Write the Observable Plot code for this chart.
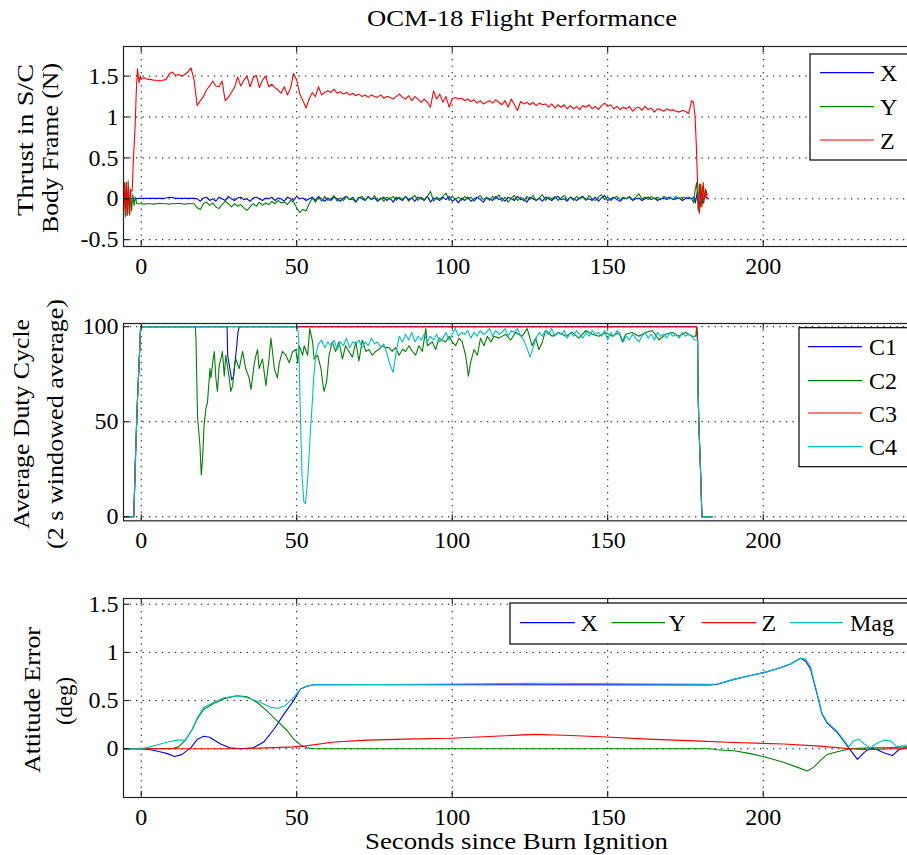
<!DOCTYPE html>
<html><head><meta charset="utf-8">
<script src="https://cdn.jsdelivr.net/npm/d3@7"></script>
<script src="https://cdn.jsdelivr.net/npm/@observablehq/plot@0.6"></script>
<style>
html,body{margin:0;padding:0;background:#fff;overflow:hidden}
#fig{position:relative;width:907px;height:855px;overflow:hidden;background:#fff}
#fig svg{position:absolute;left:0;max-width:none !important;height:auto}
</style></head>
<body><div id="fig"></div>
<script>
// ---------------- DATA ----------------
const xTicks = [0, 50, 100, 150, 200];
const thrustTicks = [-0.5, 0, 0.5, 1, 1.5];
const dutyTicks = [0, 50, 100];
const attTicks = [0, 0.5, 1, 1.5];
const colX = "#0000ff", colY = "#008000", colZ = "#ff0000", colMag = "#00bfbf";

// Panel 1: thrust (N). Startup / shutdown as [t, value]; steady part sampled each second from t = 0
const thrustXStart = [[-5.7,0],[-3,0.003],[-0.5,0.005]];
const thrustX = [
 0.005,0.005,0.005,0.005,0.005,0.005,0.005,0.005,0.01,0.02,
 0.015,0.005,0.005,0.005,0.005,0.005,0.005,0.005,0.0,-0.03,
 0.01,0.02,-0.02,0.0,-0.03,0.02,0.0,-0.02,0.03,0.0,
 -0.02,0.01,0.02,-0.01,0.0,-0.03,0.01,0.02,0.0,-0.02,
 0.01,0.0,0.02,-0.02,0.01,0.0,-0.03,0.02,0.0,-0.02,
 0.03,0.0,0.01,-0.02,0.0,0.02,-0.02,0.03,0.0,-0.03,
 0.01,-0.02,0.02,0.0,-0.03,0.01,0.03,-0.01,0.0,-0.04,
 0.02,0.0,-0.02,0.03,-0.01,0.01,-0.03,0.0,0.02,-0.02,
 0.01,-0.04,0.02,0.0,-0.02,0.03,-0.01,0.01,-0.03,0.02,
 0.0,-0.02,0.03,-0.04,0.01,0.0,-0.02,0.02,-0.01,0.03,
 -0.03,0.0,-0.05,0.01,-0.02,0.02,-0.03,0.0,0.02,-0.01,
 -0.04,0.01,0.0,-0.02,0.03,-0.01,0.01,-0.03,0.02,0.0,
 -0.02,0.03,-0.01,0.0,-0.04,0.02,0.0,-0.02,0.01,-0.03,
 0.02,0.0,-0.02,0.01,0.03,-0.01,0.0,-0.03,0.02,0.0,
 -0.02,0.01,0.03,-0.01,0.0,-0.02,0.02,-0.03,0.01,0.04,
 -0.02,0.0,0.02,-0.01,-0.03,0.01,0.0,0.02,-0.02,0.0,
 0.01,-0.02,0.0,0.02,-0.01,0.01,-0.02,0.0,0.01,-0.01,
 0.02,-0.01,0.0,0.01,-0.02,0.0,0.01,0.0];
const thrustXEnd = [[177.6,0.02],[178.2,-0.05],[178.8,0.08],[179.4,-0.1],[180,0.05],[180.6,-0.06],[181.2,0.04],[182,0.0]];

const thrustYStart = [[-5.7,-0.12],[-5.4,0.12],[-5.1,-0.22],[-4.8,0.2],[-4.5,-0.2],[-4.2,0.22],[-3.9,-0.18],[-3.5,0.12],[-3.1,-0.15],[-2.7,0.05],[-2.3,-0.08],[-1.9,0.02],[-1.4,-0.06]];
const thrustY = [
 -0.06,-0.065,-0.06,-0.06,-0.065,-0.06,-0.055,-0.06,-0.06,-0.065,
 -0.06,-0.06,-0.055,-0.06,-0.065,-0.06,-0.06,-0.06,-0.11,-0.13,
 -0.06,-0.04,-0.08,-0.05,-0.1,-0.12,-0.07,-0.03,-0.06,-0.1,
 -0.06,-0.09,-0.07,-0.11,-0.14,-0.1,-0.06,-0.09,-0.04,-0.08,
 -0.05,-0.07,-0.03,-0.06,-0.02,-0.05,-0.04,-0.07,-0.02,-0.04,
 -0.11,-0.17,-0.13,-0.15,-0.06,0.01,-0.04,0.02,-0.03,0.03,
 -0.02,0.0,0.04,-0.03,0.01,-0.02,0.03,-0.01,0.02,-0.03,
 0.01,0.03,-0.02,0.02,-0.01,0.04,-0.02,0.01,-0.03,0.02,
 0.0,0.03,-0.02,0.02,-0.01,0.03,-0.03,0.01,0.04,-0.02,
 0.02,-0.01,0.03,0.09,-0.03,0.02,0.0,0.03,0.07,-0.02,
 0.03,-0.01,0.02,-0.02,0.03,0.0,0.02,-0.03,0.01,0.04,
 -0.01,0.02,-0.02,0.03,0.0,0.05,-0.03,0.02,-0.04,0.01,
 0.04,-0.02,0.02,-0.03,0.03,-0.01,0.04,-0.02,0.01,0.05,
 -0.02,0.02,0.0,0.03,-0.02,0.01,0.04,-0.01,0.02,-0.02,
 0.03,0.0,0.02,-0.02,0.04,0.0,-0.02,0.02,0.05,-0.01,
 0.02,-0.02,0.01,0.03,-0.01,0.02,0.0,0.03,-0.01,0.02,
 0.06,0.0,0.02,-0.01,0.03,0.0,0.02,-0.01,0.03,0.01,
 0.02,-0.01,0.03,0.0,0.02,0.01,0.02,0.0];
const thrustYEnd = [[177.6,-0.05],[178.1,0.1],[178.6,0.2],[179.1,-0.15],[179.5,0.18],[179.9,-0.1],[180.4,0.15],[180.9,-0.05],[181.4,0.12],[182,0.05]];

const thrustZStart = [[-5.7,0.0],[-5.4,0.2],[-5.1,-0.15],[-4.8,0.2],[-4.5,-0.2],[-4.1,0.15],[-3.7,-0.2],[-3.3,0.1],[-2.9,0.1],[-2.5,0.5],[-2.0,0.85],[-1.6,1.3],[-1.2,1.59],[-0.7,1.42],[-0.3,1.5]];
const thrustZ = [
 1.47,1.48,1.46,1.46,1.45,1.45,1.44,1.45,1.46,1.53,
 1.55,1.51,1.52,1.50,1.52,1.55,1.60,1.45,1.14,1.20,
 1.25,1.33,1.38,1.44,1.38,1.37,1.44,1.20,1.24,1.30,
 1.36,1.49,1.38,1.45,1.50,1.37,1.48,1.51,1.36,1.45,
 1.50,1.37,1.40,1.36,1.33,1.29,1.37,1.27,1.35,1.53,
 1.45,1.28,1.20,1.11,1.22,1.30,1.25,1.37,1.27,1.30,
 1.32,1.30,1.34,1.29,1.31,1.28,1.30,1.27,1.29,1.26,
 1.28,1.25,1.27,1.24,1.27,1.25,1.24,1.27,1.23,1.25,
 1.24,1.22,1.25,1.28,1.24,1.22,1.26,1.20,1.25,1.22,
 1.18,1.22,1.18,1.12,1.32,1.22,1.28,1.18,1.25,1.12,
 1.22,1.24,1.22,1.23,1.20,1.22,1.19,1.21,1.17,1.20,
 1.16,1.18,1.20,1.17,1.21,1.18,1.15,1.20,1.12,1.22,
 1.15,1.08,1.19,1.16,1.18,1.15,1.18,1.14,1.17,1.15,
 1.16,1.12,1.16,1.11,1.15,1.12,1.15,1.10,1.14,1.10,
 1.13,1.09,1.14,1.12,1.15,1.10,1.13,1.09,1.14,1.17,
 1.13,1.15,1.10,1.13,1.09,1.12,1.10,1.13,1.07,1.11,
 1.12,1.08,1.13,1.09,1.11,1.06,1.10,1.09,1.07,1.10,
 1.08,1.09,1.07,1.06,1.08,1.07,1.04,1.20];
const thrustZEnd = [[177.6,1.18],[178.1,1.0],[178.5,0.65],[178.8,0.3],[179.1,0.0],[179.5,-0.18],[179.9,0.18],[180.3,-0.1],[180.7,0.2],[181.1,0.0],[181.6,0.1],[182,0.0]];

// Panel 2: duty cycle (%), [t, value]
const dutyRise = [[-5.7,0],[-2.4,0],[-2.2,11],[-1.8,34],[-1.2,62],[-0.7,80],[-0.2,100]];
const dutyFall = [[178.6,100],[178.9,93],[179.0,72],[179.3,49],[179.8,27],[180.3,0],[183.6,0]];
const dutyC1 = [[27.6,100],[27.8,85],[28.5,78],[29.1,72],[29.7,74],[30.2,82],[30.6,88],[31.1,97],[31.5,100]];
const dutyC2 = [[17.4,100],[17.6,94],[18.1,53],[18.9,37],[19.3,22],[19.7,30],[20.2,48],[20.8,57],[21.3,60],[22.1,78],[22.4,73],[22.9,80],[23.5,87],[24.0,73],[24.5,66],[25.1,80],[25.6,83],[26.1,87],[26.7,74],[27.2,85],[28.3,73],[28.8,66],[29.4,69],[29.9,78],[30.4,83],[31.5,78],[32.6,87],[33.6,78],[34.7,73],[35.3,67],[36.3,80],[36.9,85],[37.4,88],[37.9,78],[39.0,83],[40.1,69],[41.1,83],[41.7,94],[42.2,87],[42.8,78],[43.8,73],[44.4,81],[45.4,87],[46.5,85],[47.6,81],[48.7,87],[49.7,88],[50.3,81],[50.8,90],[51.9,85],[52.4,90],[53.5,85],[54.2,99],[55.1,92],[55.6,83],[56.7,85],[57.8,78],[58.3,71],[58.8,66],[59.6,71],[60.4,85],[61.4,92],[62.5,87],[63.6,92],[64.7,83],[65.7,90],[66.8,87],[67.9,84],[69,92],[70,82],[71.1,93],[72.2,87],[73.2,88],[74.3,85],[75.4,87],[76.4,88],[77.5,90],[78.6,89],[79.7,89],[80.7,87],[81.8,89],[82.9,85],[84,88],[85,87],[86.1,90],[87.2,87],[88.2,85],[89.3,90],[90.4,87],[91.5,99],[92,90],[93.6,92],[94.7,88],[95.7,94],[97.9,92],[99,95],[100,92],[101.1,90],[102.2,94],[103.2,92],[104.3,85],[105.2,74],[105.9,81],[107,88],[108.1,85],[109.1,94],[110.2,90],[111.3,95],[112.4,92],[113.4,95],[115,94],[117.2,96],[118.8,93],[120.4,97],[122.5,95],[124.1,99],[125.7,90],[126.8,94],[127.9,88],[129,92],[130,98],[132.2,95],[134.3,97],[136.5,95],[138.6,97],[140.7,94],[142.9,98],[145,96],[147.2,95],[149.3,97],[151.5,95],[153.6,97],[154.7,92],[155.8,96],[157.9,97],[160,95],[162.2,97],[164.3,98],[166.5,93],[168.6,96],[170.8,97],[172.9,95],[175,97],[177.2,95],[178.3,95]];
const dutyC4 = [[50.2,100],[50.6,95],[51.2,52],[51.7,22],[52.3,8],[52.8,7],[53.3,15],[53.9,30],[54.4,45],[55.0,60],[55.5,74],[56.1,85],
 [57,91],[58,93],[59,89],[60,92],[61,90],[62,93],[63,88],[64,92],[65,90],[66,94],[67,89],[68,92],[69,91],[70,93],[71,89],[72,92],[73,90],[74,94],[75,91],[76,92],[77,89],[78,91],[79,86],[80,80],[81,76],[82,87],[83,95],[84,92],[85,96],[86,93],[87,97],[88,92],[89,95],[90,93],[91,96],[92,92],[93,95],[94,93],[95,96],[96,92],[97,94],[98,97],[99,93],[100,96],[101,99],[102,95],[103,97],[104,96],[105,98],[106,94],[107,97],[108,95],[109,98],[110,96],[111,97],[112,99],[113,95],[114,98],[115,96],[116,97],[117,99],[118,95],[119,98],[120,97],[121,99],[122,95],[123,93],[124,89],[125,84],[126,89],[127,94],[128,97],[129,95],[130,98],[131,96],[132,99],[133,95],[134,97],[135,96],[136,98],[137,94],[138,97],[139,95],[140,98],[141,96],[142,94],[143,97],[144,95],[145,98],[146,96],[147,97],[148,95],[149,98],[150,93],[151,97],[152,95],[153,98],[154,96],[155,92],[156,95],[157,93],[158,96],[159,94],[160,92],[161,95],[162,97],[163,94],[164,96],[165,93],[166,97],[167,95],[168,96],[169,94],[170,97],[171,95],[172,96],[173,94],[174,97],[175,95],[176,96],[177,95],[178,93]];

// Panel 3: attitude error (deg), [t, value]
const attX = [[-5.7,0],[0,0],[3,-0.01],[6,-0.03],[8.4,-0.05],[10.7,-0.08],[13,-0.06],[15.9,0.01],[18.1,0.1],[20.1,0.13],[22,0.12],[25.5,0.05],[28.5,0.01],[32,0.0],[36,0.01],[39.4,0.07],[42.6,0.2],[45.9,0.36],[49,0.5],[51.2,0.62],[53.3,0.65],[55.5,0.665],[60,0.665],[183,0.663],[185.2,0.67],[190.6,0.72],[195.9,0.76],[200.2,0.79],[204.5,0.83],[208.8,0.88],[212,0.94],[213.6,0.91],[215.2,0.83],[217.3,0.57],[218.9,0.36],[220.5,0.27],[223.8,0.17],[225.9,0.08],[227.5,0.01],[230.3,-0.11],[232.4,-0.04],[234.5,0.01],[236.7,-0.01],[238.8,-0.04],[241.5,-0.07],[243.6,-0.01],[245.7,0.01],[248,0.0],[250,-0.02]];
const attY = [[-5.7,0],[9.7,0],[12,0.02],[14.2,0.09],[16.4,0.2],[18,0.31],[20.1,0.41],[23.3,0.47],[26.6,0.52],[30.9,0.55],[34.1,0.54],[37.3,0.48],[40.5,0.39],[43.7,0.29],[46.9,0.19],[49,0.1],[51.2,0.04],[53.3,0.01],[55.5,0.0],[183,0.0],[185.2,-0.01],[190.6,-0.02],[195.9,-0.05],[201.2,-0.09],[206.5,-0.14],[210.9,-0.19],[214.1,-0.23],[216.3,-0.19],[218.4,-0.12],[220.5,-0.06],[223.8,-0.03],[228,0.0],[234,0.01],[240,0.01],[245,0.02],[250,0.02]];
const attZ = [[-5.7,0],[5,0],[20,0],[32,0.0],[40.5,0.01],[49,0.02],[53,0.03],[62,0.07],[72.7,0.09],[85,0.1],[99.5,0.11],[110,0.125],[126.2,0.15],[136,0.14],[147.9,0.125],[163,0.1],[180,0.08],[190.6,0.065],[206.5,0.05],[217,0.03],[222.7,0.015],[228,0.0],[234,-0.01],[241,0.0],[250,0.0]];
const attMag = [[-5.7,0],[0,0],[2.9,0.02],[5,0.04],[8.4,0.07],[11.6,0.09],[14.2,0.09],[16.4,0.2],[18,0.32],[20.1,0.43],[23.3,0.48],[26.6,0.53],[30.9,0.55],[34.1,0.53],[38.4,0.48],[41.6,0.43],[44.2,0.42],[46.3,0.45],[49,0.53],[51.2,0.62],[53.3,0.65],[55.5,0.665],[92,0.669],[130,0.68],[183,0.67],[185.2,0.672],[190.6,0.72],[195.9,0.76],[200.2,0.79],[204.5,0.83],[208.8,0.88],[212,0.94],[213.6,0.93],[215.2,0.85],[217.3,0.58],[218.9,0.37],[220.5,0.28],[223.8,0.18],[225.9,0.09],[227.5,0.02],[229,0.08],[230.8,0.1],[232.5,0.05],[234.5,0.01],[236.7,0.06],[238.8,0.09],[241,0.08],[243,0.02],[245,0.03],[247,0.05],[250,0.03]];

// ---------------- HELPERS ----------------
const FONT = '"Liberation Serif","Times New Roman",serif';
const pairs = a => a.map(([t, v]) => ({t, v}));
const steady = a => a.map((v, i) => ({t: i, v}));
const xDomain = [-5.7, 250];
const W = 920, ML = 123, MR = 1.8, PW = W - ML - MR;
const fig = document.getElementById("fig");

function panel({frameTop, frameH, yDomain, yTicks, series}) {
  const MT = 10, MB = 42;
  const grid = {stroke: "#000", strokeOpacity: 1, strokeWidth: 1, strokeDasharray: "1.3,5.2"};
  const svg = Plot.plot({
    width: W, height: frameH + MT + MB,
    marginLeft: ML, marginRight: MR, marginTop: MT, marginBottom: MB,
    style: {fontFamily: FONT, fontSize: "24px", background: "transparent", color: "#000", maxWidth: "none"},
    x: {domain: xDomain},
    y: {domain: yDomain},
    marks: [
      Plot.gridX(xTicks, {...grid}),
      Plot.gridY(yTicks, {...grid}),
      ...series.map(s => Plot.line(s.data, {x: "t", y: "v", stroke: s.color, strokeWidth: 1.1})),
      Plot.ruleX(xTicks, {x: d => d, insetTop: frameH - 6, stroke: "#000"}),
      Plot.ruleX(xTicks, {x: d => d, insetBottom: frameH - 6, stroke: "#000"}),
      Plot.ruleY(yTicks, {y: d => d, insetRight: PW - 6, stroke: "#000"}),
      Plot.ruleY(yTicks, {y: d => d, insetLeft: PW - 6, stroke: "#000"}),
      Plot.axisX({ticks: xTicks, tickSize: 0, tickPadding: 10, tickFormat: d => String(d), label: null}),
      Plot.axisY({ticks: yTicks, tickSize: 0, tickPadding: 5, tickFormat: d => String(d), label: null}),
      Plot.frame({stroke: "#222", strokeWidth: 1.2})
    ]
  });
  svg.style.top = (frameTop - MT) + "px";
  svg.style.width = W + "px";
  svg.style.maxWidth = "none";
  fig.appendChild(svg);
}

panel({frameTop: 46, frameH: 200, yDomain: [-0.583, 1.862], yTicks: thrustTicks, series: [
  {data: [...pairs(thrustXStart), ...steady(thrustX), ...pairs(thrustXEnd)], color: colX},
  {data: [...pairs(thrustYStart), ...steady(thrustY), ...pairs(thrustYEnd)], color: colY},
  {data: [...pairs(thrustZStart), ...steady(thrustZ), ...pairs(thrustZEnd)], color: colZ}
]});

panel({frameTop: 322.7, frameH: 197.3, yDomain: [-2.1, 101.7], yTicks: dutyTicks, series: [
  {data: pairs([...dutyRise, ...dutyC1, ...dutyFall]), color: colX},
  {data: pairs([...dutyRise, ...dutyC2, ...dutyFall]), color: colY},
  {data: pairs([...dutyRise, ...dutyFall]), color: colZ},
  {data: pairs([...dutyRise, ...dutyC4, ...dutyFall.slice(1)]), color: colMag}
]});

panel({frameTop: 597.7, frameH: 199, yDomain: [-0.505, 1.559], yTicks: attTicks, series: [
  {data: pairs(attX), color: colX},
  {data: pairs(attY), color: colY},
  {data: pairs(attZ), color: colZ},
  {data: pairs(attMag), color: colMag}
]});

// ---------------- TEXT & LEGENDS (overlay) ----------------
const ov = d3.select(fig).append("svg").attr("width", 907).attr("height", 855)
  .style("top", "0px").style("font-family", FONT).style("font-size", "24px");

function txt(s, x, y, opts = {}) {
  const t = ov.append("text").attr("x", x).attr("y", y).attr("fill", "#000").text(s);
  if (opts.anchor) t.attr("text-anchor", opts.anchor);
  if (opts.len) t.attr("textLength", opts.len).attr("lengthAdjust", "spacingAndGlyphs");
  if (opts.size) t.style("font-size", opts.size + "px");
  return t;
}
function vtxt(s, x, y, len) {
  ov.append("text").attr("transform", `translate(${x},${y}) rotate(-90)`)
    .attr("text-anchor", "middle").attr("fill", "#000")
    .attr("textLength", len).attr("lengthAdjust", "spacingAndGlyphs").text(s);
}

txt("OCM-18 Flight Performance", 522, 26, {anchor: "middle", len: 310});
txt("Seconds since Burn Ignition", 516.5, 849, {anchor: "middle", len: 303});

vtxt("Thrust in S/C", 33, 140, 152);
vtxt("Body Frame (N)", 58, 148, 170);
vtxt("Average Duty Cycle", 29, 424, 210);
vtxt("(2 s windowed average)", 63, 424, 250);
vtxt("Attitude Error", 40, 700, 146);
vtxt("(deg)", 72, 701, 48);

function legendBox(x, y, w, h) {
  ov.append("rect").attr("x", x).attr("y", y).attr("width", w).attr("height", h)
    .attr("fill", "#fff").attr("stroke", "#000").attr("stroke-width", 1.2);
}
function legendItem(label, color, x1, x2, y, tx) {
  ov.append("line").attr("x1", x1).attr("x2", x2).attr("y1", y).attr("y2", y)
    .attr("stroke", color).attr("stroke-width", 1.2);
  txt(label, tx, y + 8.5);
}

const legend1 = [["X", colX], ["Y", colY], ["Z", colZ]];
legendBox(810, 54, 104, 106);
legend1.forEach(([l, c], i) => legendItem(l, c, 820, 874, [72.7, 106.7, 140][i], 880));

const legend2 = [["C1", colX], ["C2", colY], ["C3", colZ], ["C4", colMag]];
legendBox(799, 327.7, 115, 139);
legend2.forEach(([l, c], i) => legendItem(l, c, 808, 862, [346.7, 380.7, 413, 446.7][i], 869));

const legend3 = [["X", colX], ["Y", colY], ["Z", colZ], ["Mag", colMag]];
legendBox(510, 603, 404, 41);
const l3 = [[520, 575, 580.5], [611.7, 665, 668.5], [701.7, 756, 761.5], [790, 843, 850]];
legend3.forEach(([l, c], i) => legendItem(l, c, l3[i][0], l3[i][1], 622.7, l3[i][2]));
</script>
</body></html>
